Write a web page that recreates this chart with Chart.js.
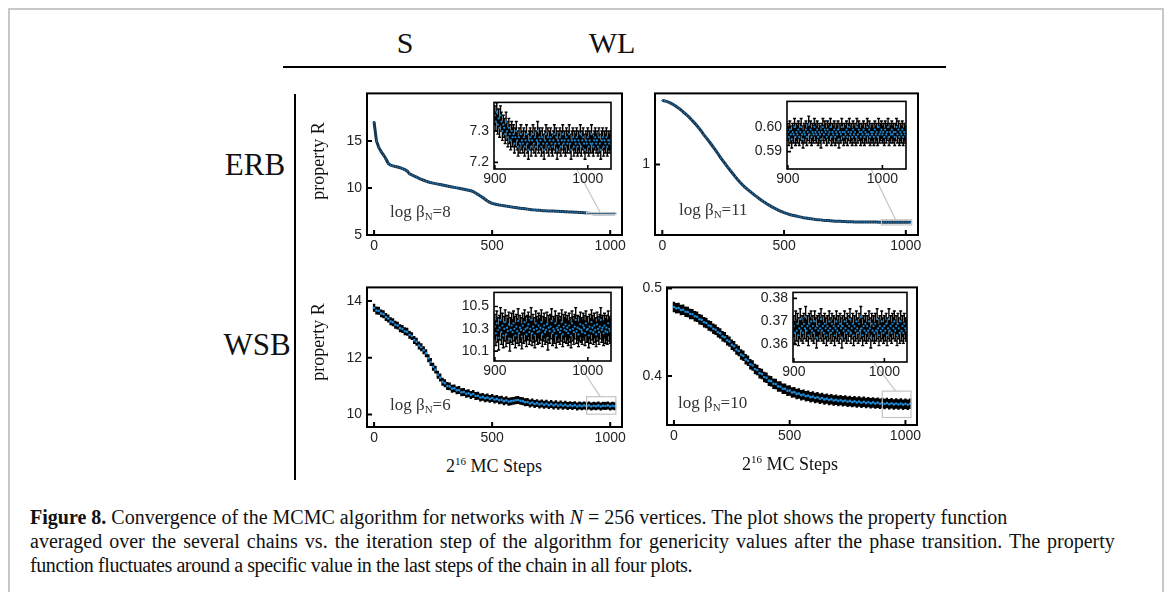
<!DOCTYPE html>
<html>
<head>
<meta charset="utf-8">
<script src="https://cdn.jsdelivr.net/npm/chart.js@4.4.1/dist/chart.umd.min.js"></script>
<style>
  html, body { margin: 0; padding: 0; background: #fff; }
  body { width: 1170px; height: 592px; position: relative; overflow: hidden; font-family: 'Liberation Serif', serif; }
  .frame { position: absolute; left: 8px; top: 8px; width: 1156px; height: 600px; border: 2px solid #c8c8c8; border-bottom: none; box-sizing: border-box; }
  canvas { position: absolute; }
  .t { position: absolute; white-space: nowrap; color: #111; line-height: 1; transform: translate(-50%, -50%); z-index: 5; }
  .tl { position: absolute; white-space: nowrap; color: #333; line-height: 1; transform: translate(0, -50%); z-index: 5; font-size: 17px; }
  .tl sub { font-size: 11px; vertical-align: -3px; }
  .rot { transform: translate(-50%, -50%) rotate(-90deg); }
  .hl { position: absolute; background: #000; z-index: 5; }
  .cap { position: absolute; left: 30px; top: 505px; font-size: 20px; line-height: 24px; color: #111; white-space: nowrap; z-index: 5; }
</style>
</head>
<body>
<div class="frame"></div>

<div class="t" style="left:405px;top:43px;font-size:30px">S</div>
<div class="t" style="left:612px;top:43px;font-size:30px">WL</div>
<div class="hl" style="left:283px;top:66px;width:663px;height:2px"></div>
<div class="hl" style="left:294px;top:94px;width:2px;height:386px"></div>
<div class="t" style="left:255px;top:164px;font-size:31px">ERB</div>
<div class="t" style="left:257px;top:344px;font-size:31px">WSB</div>
<div class="t rot" style="left:318px;top:161px;font-size:18px">property R</div>
<div class="t rot" style="left:318px;top:342px;font-size:18px">property R</div>
<div class="tl" style="left:390px;top:212px">log β<sub>N</sub>=8</div>
<div class="tl" style="left:679px;top:210px">log β<sub>N</sub>=11</div>
<div class="tl" style="left:390px;top:405px">log β<sub>N</sub>=6</div>
<div class="tl" style="left:678px;top:403px">log β<sub>N</sub>=10</div>
<div class="t" style="left:494px;top:465px;font-size:18px">2<sup style="font-size:11px">16</sup> MC Steps</div>
<div class="t" style="left:790px;top:463px;font-size:18px">2<sup style="font-size:11px">16</sup> MC Steps</div>

<canvas id="erbSMain"></canvas>
<canvas id="erbWLMain"></canvas>
<canvas id="wsbSMain"></canvas>
<canvas id="wsbWLMain"></canvas>
<canvas id="erbSInset"></canvas>
<canvas id="erbWLInset"></canvas>
<canvas id="wsbSInset"></canvas>
<canvas id="wsbWLInset"></canvas>

<div class="cap"><b>Figure 8.</b> Convergence of the MCMC algorithm for networks with <i>N</i> = 256 vertices. The plot shows the property function<br><span style="word-spacing:2px">averaged over the several chains vs. the iteration step of the algorithm for genericity values after the phase transition. The property</span><br><span style="letter-spacing:-0.4px">function fluctuates around a specific value in the last steps of the chain in all four plots.</span></div>

<script>
'use strict';

// steps of the main panels (every 10 MC steps) and of the zoomed insets
let mainSteps = Array.from({length: 103}, (_, i) => i * 10);
let insetSteps = Array.from({length: 125}, (_, i) => 900 + i);

// ERB / S
let erbS = [17.0, 15.0, 14.3, 13.85, 13.5, 13.1, 12.6, 12.42, 12.35, 12.28,
  12.22, 12.15, 12.05, 11.95, 11.8, 11.5, 11.38, 11.27, 11.16, 11.02,
  10.92, 10.82, 10.72, 10.63, 10.57, 10.51, 10.46, 10.41, 10.36, 10.31,
  10.26, 10.21, 10.16, 10.11, 10.06, 10.01, 9.96, 9.91, 9.86, 9.81,
  9.76, 9.7, 9.6, 9.46, 9.3, 9.14, 8.98, 8.8, 8.62, 8.47,
  8.36, 8.3, 8.24, 8.19, 8.15, 8.11, 8.07, 8.03, 7.99, 7.95,
  7.92, 7.88, 7.84, 7.81, 7.78, 7.75, 7.72, 7.69, 7.67, 7.64,
  7.62, 7.6, 7.59, 7.57, 7.56, 7.55, 7.54, 7.53, 7.52, 7.5,
  7.49, 7.48, 7.46, 7.45, 7.44, 7.42, 7.41, 7.4, 7.39, 7.37,
  7.34, 7.3, 7.28, 7.27, 7.27, 7.26, 7.27, 7.27, 7.26, 7.26,
  7.26, 7.26, 7.26];
let erbSZoom = [7.35, 7.33, 7.36, 7.32, 7.34, 7.31, 7.35, 7.33, 7.30, 7.32,
  7.31, 7.29, 7.33, 7.30, 7.28, 7.31, 7.29, 7.27, 7.30, 7.28,
  7.29, 7.26, 7.28, 7.30, 7.27, 7.25, 7.28, 7.26, 7.29, 7.27,
  7.26, 7.28, 7.25, 7.27, 7.29, 7.26, 7.24, 7.27, 7.28, 7.25,
  7.27, 7.29, 7.26, 7.28, 7.25, 7.27, 7.30, 7.26, 7.28, 7.27,
  7.25, 7.28, 7.26, 7.24, 7.27, 7.29, 7.26, 7.28, 7.25, 7.27,
  7.28, 7.26, 7.25, 7.27, 7.29, 7.26, 7.28, 7.24, 7.27, 7.26,
  7.28, 7.25, 7.27, 7.29, 7.26, 7.27, 7.25, 7.28, 7.26, 7.27,
  7.29, 7.26, 7.24, 7.27, 7.28, 7.25, 7.27, 7.26, 7.28, 7.25,
  7.27, 7.26, 7.29, 7.25, 7.27, 7.28, 7.26, 7.24, 7.27, 7.26,
  7.28, 7.25, 7.27, 7.26, 7.29, 7.26, 7.25, 7.27, 7.28, 7.26,
  7.27, 7.25, 7.28, 7.26, 7.24, 7.27, 7.28, 7.25, 7.27, 7.26,
  7.28, 7.25, 7.27, 7.26, 7.27];

// ERB / WL
let erbWL = [1.77, 1.762, 1.75, 1.735, 1.715, 1.695, 1.67, 1.645, 1.615, 1.585,
  1.555, 1.525, 1.49, 1.455, 1.42, 1.385, 1.345, 1.305, 1.27, 1.235,
  1.2, 1.165, 1.13, 1.095, 1.06, 1.03, 1.0, 0.972, 0.945, 0.92,
  0.895, 0.872, 0.851, 0.832, 0.815, 0.8, 0.786, 0.772, 0.759, 0.747,
  0.735, 0.724, 0.713, 0.703, 0.694, 0.685, 0.677, 0.67, 0.663, 0.657,
  0.651, 0.646, 0.641, 0.637, 0.634, 0.631, 0.628, 0.625, 0.622, 0.62,
  0.618, 0.616, 0.614, 0.612, 0.611, 0.61, 0.608, 0.607, 0.606, 0.605,
  0.604, 0.603, 0.602, 0.602, 0.601, 0.601, 0.6, 0.6, 0.6, 0.599,
  0.599, 0.599, 0.599, 0.598, 0.598, 0.598, 0.598, 0.598, 0.598, 0.597,
  0.598, 0.597, 0.598, 0.597, 0.598, 0.597, 0.598, 0.597, 0.598, 0.597,
  0.598, 0.597, 0.598];
let erbWLZoom = [0.598, 0.596, 0.599, 0.597, 0.595, 0.598, 0.597, 0.600, 0.596, 0.598,
  0.597, 0.599, 0.596, 0.598, 0.600, 0.597, 0.595, 0.598, 0.597, 0.599,
  0.596, 0.598, 0.601, 0.597, 0.599, 0.596, 0.598, 0.597, 0.600, 0.598,
  0.597, 0.599, 0.596, 0.598, 0.597, 0.595, 0.598, 0.600, 0.597, 0.599,
  0.598, 0.596, 0.599, 0.597, 0.598, 0.600, 0.596, 0.598, 0.597, 0.599,
  0.596, 0.598, 0.597, 0.599, 0.595, 0.598, 0.597, 0.600, 0.598, 0.596,
  0.598, 0.597, 0.599, 0.596, 0.598, 0.600, 0.597, 0.598, 0.596, 0.599,
  0.597, 0.598, 0.596, 0.600, 0.597, 0.599, 0.598, 0.596, 0.598, 0.597,
  0.599, 0.596, 0.598, 0.597, 0.600, 0.597, 0.599, 0.596, 0.598, 0.597,
  0.598, 0.596, 0.599, 0.597, 0.598, 0.596, 0.600, 0.597, 0.598, 0.599,
  0.597, 0.598, 0.596, 0.599, 0.597, 0.598, 0.600, 0.596, 0.598, 0.597,
  0.599, 0.597, 0.598, 0.596, 0.598, 0.600, 0.597, 0.599, 0.596, 0.598,
  0.597, 0.599, 0.596, 0.598, 0.597];

// WSB / S
let wsbS = [13.76, 13.66, 13.65, 13.56, 13.53, 13.43, 13.38, 13.28, 13.25, 13.16,
  13.13, 13.04, 13.01, 12.93, 12.91, 12.81, 12.76, 12.62, 12.56, 12.43,
  12.37, 12.26, 12.16, 11.98, 11.85, 11.68, 11.58, 11.4, 11.3, 11.15,
  11.1, 11.0, 10.99, 10.91, 10.92, 10.85, 10.86, 10.78, 10.79, 10.73,
  10.75, 10.69, 10.72, 10.65, 10.66, 10.6, 10.62, 10.57, 10.6, 10.55,
  10.58, 10.53, 10.55, 10.5, 10.52, 10.47, 10.5, 10.45, 10.47, 10.48,
  10.5, 10.51, 10.48, 10.47, 10.43, 10.44, 10.39, 10.42, 10.37, 10.4,
  10.35, 10.39, 10.34, 10.38, 10.33, 10.37, 10.32, 10.36, 10.31, 10.35,
  10.31, 10.34, 10.3, 10.33, 10.3, 10.33, 10.28, 10.32, 10.29, 10.32,
  10.29, 10.32, 10.28, 10.31, 10.29, 10.32, 10.28, 10.31, 10.3, 10.32,
  10.28, 10.31, 10.29];
let wsbSZoom = [10.32, 10.26, 10.35, 10.29, 10.22, 10.31, 10.38, 10.27, 10.33, 10.24,
  10.30, 10.36, 10.25, 10.31, 10.28, 10.34, 10.21, 10.29, 10.33, 10.27,
  10.35, 10.30, 10.24, 10.32, 10.28, 10.37, 10.26, 10.31, 10.29, 10.23,
  10.33, 10.28, 10.36, 10.30, 10.25, 10.31, 10.34, 10.27, 10.30, 10.38,
  10.26, 10.32, 10.29, 10.24, 10.35, 10.30, 10.27, 10.33, 10.28, 10.31,
  10.36, 10.25, 10.30, 10.33, 10.27, 10.29, 10.34, 10.22, 10.31, 10.28,
  10.32, 10.37, 10.26, 10.30, 10.28, 10.35, 10.24, 10.31, 10.29, 10.33,
  10.27, 10.30, 10.36, 10.25, 10.32, 10.29, 10.34, 10.28, 10.31, 10.26,
  10.33, 10.29, 10.24, 10.35, 10.30, 10.27, 10.32, 10.38, 10.28, 10.31,
  10.25, 10.30, 10.34, 10.29, 10.27, 10.33, 10.31, 10.26, 10.35, 10.29,
  10.30, 10.24, 10.32, 10.28, 10.36, 10.31, 10.27, 10.33, 10.29, 10.25,
  10.34, 10.30, 10.27, 10.32, 10.38, 10.29, 10.31, 10.26, 10.33, 10.28,
  10.31, 10.27, 10.35, 10.30, 10.28];

// WSB / WL
let wsbWL = [0.479, 0.4775, 0.4778, 0.4755, 0.4758, 0.4735, 0.4732, 0.471, 0.4708, 0.4683,
  0.4678, 0.465, 0.4642, 0.4615, 0.4607, 0.4578, 0.4568, 0.454, 0.4528, 0.45,
  0.4487, 0.4455, 0.4442, 0.4408, 0.4393, 0.4356, 0.434, 0.4302, 0.4286, 0.4246,
  0.423, 0.419, 0.4174, 0.4134, 0.4119, 0.408, 0.4068, 0.4032, 0.4021, 0.3987,
  0.3978, 0.3946, 0.394, 0.3911, 0.3907, 0.388, 0.3878, 0.3853, 0.3853, 0.383,
  0.3832, 0.3811, 0.3814, 0.3794, 0.3799, 0.378, 0.3786, 0.3768, 0.3774, 0.3757,
  0.3764, 0.3747, 0.3755, 0.3739, 0.3747, 0.3731, 0.374, 0.3725, 0.3734, 0.3719,
  0.3728, 0.3714, 0.3723, 0.3709, 0.3718, 0.3704, 0.3714, 0.37, 0.371, 0.3696,
  0.3706, 0.3692, 0.3703, 0.3689, 0.37, 0.3686, 0.3697, 0.3683, 0.3694, 0.3681,
  0.3691, 0.3678, 0.3689, 0.3676, 0.3687, 0.3674, 0.3685, 0.3672, 0.3683, 0.3671,
  0.3682, 0.367, 0.3681];
let wsbWLZoom = [0.368, 0.365, 0.370, 0.366, 0.369, 0.364, 0.367, 0.371, 0.366, 0.368,
  0.365, 0.369, 0.367, 0.372, 0.366, 0.368, 0.364, 0.369, 0.367, 0.370,
  0.366, 0.368, 0.365, 0.370, 0.367, 0.363, 0.368, 0.366, 0.369, 0.367,
  0.371, 0.366, 0.368, 0.365, 0.369, 0.367, 0.364, 0.368, 0.366, 0.370,
  0.367, 0.365, 0.369, 0.366, 0.368, 0.364, 0.367, 0.370, 0.366, 0.368,
  0.365, 0.369, 0.367, 0.363, 0.368, 0.366, 0.370, 0.367, 0.365, 0.369,
  0.366, 0.368, 0.371, 0.365, 0.367, 0.369, 0.364, 0.368, 0.366, 0.370,
  0.367, 0.365, 0.369, 0.366, 0.372, 0.367, 0.364, 0.368, 0.366, 0.369,
  0.365, 0.368, 0.366, 0.370, 0.367, 0.363, 0.369, 0.366, 0.368, 0.365,
  0.369, 0.366, 0.371, 0.367, 0.364, 0.368, 0.366, 0.370, 0.367, 0.365,
  0.368, 0.366, 0.369, 0.364, 0.367, 0.371, 0.366, 0.368, 0.365, 0.369,
  0.367, 0.370, 0.366, 0.368, 0.364, 0.369, 0.367, 0.365, 0.370, 0.366,
  0.368, 0.365, 0.369, 0.367, 0.366];

// error bar half widths
let errMain = {erbS: 0.08, erbWL: 0.004, wsbS: 0.14, wsbWL: 0.006};
let errZoom = {erbS: 0.03, erbWL: 0.0035, wsbS: 0.11, wsbWL: 0.0045};

// tick labels
let mainXTicks = ['0', '500', '1000'];
let zoomXTicks = ['900', '1000'];
let erbSYTicks = ['5', '10', '15'];
let erbWLYTicks = ['1'];
let wsbSYTicks = ['10', '12', '14'];
let wsbWLYTicks = ['0.4', '0.5'];
let erbSZoomYTicks = ['7.2', '7.3'];
let erbWLZoomYTicks = ['0.59', '0.60'];
let wsbSZoomYTicks = ['10.1', '10.3', '10.5'];
let wsbWLZoomYTicks = ['0.36', '0.37', '0.38'];

let blue = '#1d8ad6';
Chart.defaults.font.family = 'Liberation Sans';

let panelPlugin = {
  id: 'panel',
  beforeDraw(chart, args, o) {
    if (!o.fill) return;
    let a = chart.chartArea;
    chart.ctx.save();
    chart.ctx.fillStyle = '#fff';
    chart.ctx.fillRect(a.left, a.top, a.right - a.left, a.bottom - a.top);
    chart.ctx.restore();
  },
  beforeDatasetsDraw(chart, args, o) {
    let ctx = chart.ctx;
    let a = chart.chartArea;
    let xs = chart.scales.x;
    let ys = chart.scales.y;
    ctx.save();
    ctx.beginPath();
    ctx.rect(a.left, a.top, a.right - a.left, a.bottom - a.top);
    ctx.clip();
    ctx.strokeStyle = '#000';
    ctx.lineWidth = o.errWidth;
    chart.data.datasets.forEach(ds => {
      if (!ds.err) return;
      ctx.beginPath();
      ds.data.forEach(p => {
        let px = xs.getPixelForValue(p.x);
        let y1 = ys.getPixelForValue(p.y - ds.err);
        let y2 = ys.getPixelForValue(p.y + ds.err);
        ctx.moveTo(px, y1);
        ctx.lineTo(px, y2);
        if (o.cap) {
          ctx.moveTo(px - o.cap, y1); ctx.lineTo(px + o.cap, y1);
          ctx.moveTo(px - o.cap, y2); ctx.lineTo(px + o.cap, y2);
        }
      });
      ctx.stroke();
    });
    ctx.restore();
  },
  afterDatasetsDraw(chart, args, o) {
    let ctx = chart.ctx;
    let a = chart.chartArea;
    let xs = chart.scales.x;
    let ys = chart.scales.y;
    ctx.save();
    // zoom window and the line to the inset
    if (o.lens) {
      let x1 = xs.getPixelForValue(o.lens[0]);
      let x2 = xs.getPixelForValue(o.lens[1]);
      let y1 = ys.getPixelForValue(o.lens[3]);
      let y2 = ys.getPixelForValue(o.lens[2]);
      ctx.strokeStyle = '#c4c4c4';
      ctx.lineWidth = 1.2;
      ctx.strokeRect(x1, y1, x2 - x1, y2 - y1);
      if (o.link) {
        ctx.beginPath();
        ctx.moveTo(xs.getPixelForValue(o.linkFrom), y1);
        ctx.lineTo(o.link.x, o.link.y);
        ctx.stroke();
      }
    }
    // box
    ctx.strokeStyle = '#000';
    ctx.lineWidth = o.frame;
    ctx.strokeRect(a.left, a.top, a.right - a.left, a.bottom - a.top);
    // inward tick marks
    ctx.beginPath();
    xs.ticks.forEach(t => {
      let px = xs.getPixelForValue(t.value);
      ctx.moveTo(px, a.bottom);
      ctx.lineTo(px, a.bottom - o.tick);
    });
    ys.ticks.forEach(t => {
      let py = ys.getPixelForValue(t.value);
      ctx.moveTo(a.left, py);
      ctx.lineTo(a.left + o.tick, py);
    });
    ctx.stroke();
    ctx.restore();
  }
};

function makePanel(id, box, pad, c) {
  let cv = document.getElementById(id);
  let w = box[2] - box[0] + pad[0] + pad[2];
  let h = box[3] - box[1] + pad[1] + pad[3];
  cv.width = w;
  cv.height = h;
  cv.style.left = (box[0] - pad[0]) + 'px';
  cv.style.top = (box[1] - pad[1]) + 'px';
  cv.style.width = w + 'px';
  cv.style.height = h + 'px';
  cv.style.zIndex = c.inset ? 3 : 2;
  let pts = c.steps.map((s, i) => ({x: s, y: c.values[i]}));
  let font = {size: 14};
  return new Chart(cv, {
    type: 'scatter',
    data: {
      datasets: [{
        data: pts,
        err: c.err,
        showLine: !!c.line,
        borderColor: c.line || blue,
        borderWidth: c.line ? 3 : 0,
        pointRadius: c.line ? 0.8 : (c.inset ? 1.1 : 1.3),
        pointBackgroundColor: c.line ? '#2377b5' : blue,
        pointBorderWidth: 0
      }]
    },
    options: {
      responsive: false,
      animation: false,
      events: [],
      layout: {padding: {left: 0, top: pad[1], right: pad[2], bottom: 0}},
      plugins: {
        legend: {display: false},
        tooltip: {enabled: false},
        panel: {
          fill: !!c.inset,
          errWidth: c.inset ? 1.4 : 2.4,
          cap: c.inset ? 1.5 : 0,
          frame: c.inset ? 1.6 : 2,
          tick: c.inset ? 4 : 5,
          lens: c.lens,
          link: c.link,
          linkFrom: c.linkFrom
        }
      },
      scales: {
        x: {
          type: 'linear',
          min: c.xRange[0],
          max: c.xRange[1],
          grid: {display: false, drawTicks: false},
          border: {display: false},
          afterBuildTicks: s => { s.ticks = c.xTicks.map(v => ({value: parseFloat(v)})); },
          afterFit: s => { s.height = pad[3]; },
          ticks: {font: font, color: '#222', padding: c.inset ? 2 : 3, maxRotation: 0, autoSkip: false,
            callback: (v, i) => c.xTicks[i]}
        },
        y: {
          type: c.log ? 'logarithmic' : 'linear',
          min: c.yRange[0],
          max: c.yRange[1],
          grid: {display: false, drawTicks: false},
          border: {display: false},
          afterBuildTicks: s => { s.ticks = c.yTicks.map(v => ({value: parseFloat(v)})); },
          afterFit: s => { s.width = pad[0]; },
          ticks: {font: font, color: '#222', padding: 5, autoSkip: false,
            callback: (v, i) => c.yTicks[i]}
        }
      }
    },
    plugins: [panelPlugin]
  });
}

let mainPad = [44, 8, 16, 24];
let zoomPad = [36, 6, 14, 20];

function linkPoint(inset, box, mainBox) {
  // bottom of the inset at step 988, in the main canvas frame
  let ix = box[0] - zoomPad[0] + inset.scales.x.getPixelForValue(988);
  let iy = box[1] - zoomPad[1] + inset.chartArea.bottom;
  return {x: ix - (mainBox[0] - mainPad[0]), y: iy - (mainBox[1] - mainPad[1])};
}

function makePair(name, mainBox, zoomBox, mainCfg, zoomCfg) {
  let inset = makePanel(name + 'Inset', zoomBox, zoomPad, Object.assign({
    inset: true, steps: insetSteps, xRange: [899, 1025], xTicks: zoomXTicks
  }, zoomCfg));
  makePanel(name + 'Main', mainBox, mainPad, Object.assign({
    steps: mainSteps, xRange: [-30, 1050], xTicks: mainXTicks,
    lens: [900, 1024, zoomCfg.yRange[0], zoomCfg.yRange[1]],
    link: linkPoint(inset, zoomBox, mainBox), linkFrom: 958
  }, mainCfg));
}

makePair('erbS', [367, 88, 622, 235], [494, 95, 611, 169],
  {values: erbS, err: errMain.erbS, yRange: [5, 20.05], yTicks: erbSYTicks, line: '#163650'},
  {values: erbSZoom, err: errZoom.erbS, yRange: [7.179, 7.391], yTicks: erbSZoomYTicks});

makePair('erbWL', [655, 88, 918, 235], [787, 94, 906, 169],
  {values: erbWL, err: errMain.erbWL, yRange: [0.533, 1.884], yTicks: erbWLYTicks, log: true, line: '#163650'},
  {values: erbWLZoom, err: errZoom.erbWL, yRange: [0.5829, 0.6105], yTicks: erbWLZoomYTicks});

makePair('wsbS', [367, 282, 622, 427], [494, 285, 611, 361],
  {values: wsbS, err: errMain.wsbS, yRange: [9.56, 14.475], yTicks: wsbSYTicks},
  {values: wsbSZoom, err: errZoom.wsbS, yRange: [10.011, 10.627], yTicks: wsbSZoomYTicks});

makePair('wsbWL', [667, 282, 917, 425], [793, 285, 907, 362],
  {values: wsbWL, err: errMain.wsbWL, yRange: [0.3438, 0.5014], yTicks: wsbWLYTicks},
  {values: wsbWLZoom, err: errZoom.wsbWL, yRange: [0.3524, 0.3826], yTicks: wsbWLZoomYTicks});
</script>
</body>
</html>
